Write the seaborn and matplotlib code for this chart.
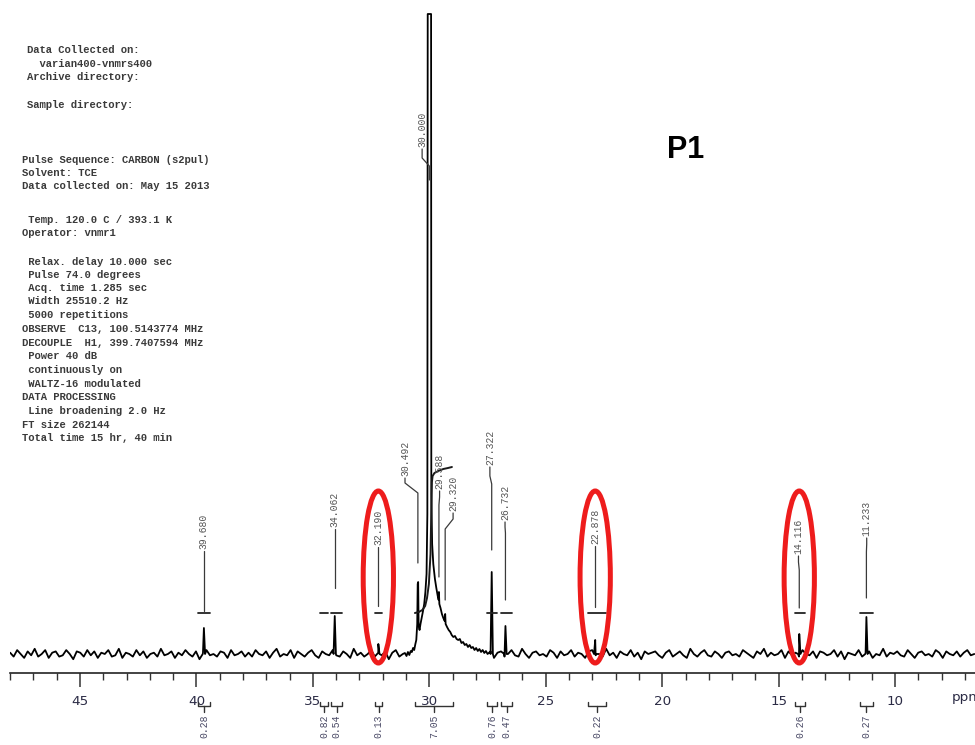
import numpy as np
import matplotlib
matplotlib.use("Agg")
import matplotlib.pyplot as plt
from matplotlib.patches import Ellipse
import seaborn as sns

# ---------------- spectrum data ----------------
# isolated sharp resonances: shift (ppm) and height (a.u.)
peak_ppm = [39.680, 34.062, 32.190, 27.322, 26.732, 22.878, 14.116, 11.233]
peak_height = [26, 38, 10, 82, 28, 14, 20, 37]

# main methylene envelope, traced point by point (ppm, a.u.); top is clipped by the plotter
cluster_ppm = [31.05, 30.98, 30.92, 30.86, 30.80, 30.75, 30.70, 30.65, 30.60, 30.56,
               30.52, 30.50, 30.48, 30.46, 30.42, 30.38, 30.33, 30.28, 30.22, 30.17,
               30.12, 30.085, 30.07, 29.925, 29.915, 29.88, 29.83, 29.76, 29.70, 29.64,
               29.60, 29.588, 29.57, 29.52, 29.46, 29.40, 29.34, 29.32, 29.30, 29.24,
               29.17, 29.10, 29.04, 28.97, 28.90, 28.83, 28.76, 28.69, 28.62, 28.55,
               28.48, 28.41, 28.34, 28.27, 28.20, 28.13, 28.06, 27.99, 27.92, 27.85,
               27.78, 27.71, 27.64, 27.57, 27.50]
cluster_int = [1, -2, 2, -1, 3, 2, 6, 4, 10, 14,
               30, 70, 72, 28, 24, 30, 36, 42, 50, 62,
               80, 140, 640, 640, 160, 110, 90, 75, 66, 58,
               54, 62, 50, 46, 40, 36, 33, 40, 30, 27,
               24, 22, 19, 17, 18, 15, 14, 15, 11, 12,
               9, 10, 7, 9, 6, 7, 4, 6, 3, 5,
               2, 4, 1, 3, 0]

# baseline noise, left (48 ppm) to right (6.6 ppm)
baseline_noise = [
    1, -2, 3, 0, -3, 2, -1, 4, -2, 0, 3, -3, 1, 2, -2, -1, 3, 0, -4, 2, 1, -2, 3,
    -1, 2, -3, 1, 0, 3, -2, -1, 4, -3, 1, 0, -2, 3, -1, 2, -3, 0, 1, -2, 4, -1, 0,
    2, -3, 1, -1, 3, 0, -2, 2, -4, 1, 3, -1, 0, -2, 2, 1, -3, 3, -1, 0, 2, -2, 1,
    -2, 3, 0, -1, 2, -3, 1, 4, -2, 0, -1, 3, -3, 2, 0, -2, 1, 3, -1, -3, 2, 0, -1,
    3, -1, -2, 2, 0, -3, 4, -1, 1, -2, 0, 3, -2, 1, -1, 2, -4, 1, 3, -2, 0, 1, -3,
    0, 2, -1, 3, -2, 1, -3, 0, 2, -1, 4, -2, 0, 1, -3, 2, -1, 3, 0, -2, 1, -1, 2,
    -3, 1, 2, -2, 0, 3, -1, -2, 4, 0, -3, 1, 2, -1, 0, -2, 3, 1, -3, 2, -1, 0, 3,
    -2, 1, 0, -3, 2, 3, -1, 0, -2, 4, -1, 1, -3, 2, 0, -1, 3, -2, 1, -4, 2, 0, 1,
    2, -1, -3, 1, 3, -2, 0, 2, -1, -3, 4, 0, -2, 1, 3, -1, -2, 2, 0, -3, 1, 2, -1,
    0, -2, 3, 1, -1, -3, 2, 0, 4, -2, 1, -1, 0, 3, -3, 2, -1, 1, -2, 3, 0, -1, 2,
    -3, 2, 1, -1, 0, 3, -2, 2, -4, 1, 0, -1, 3, -2, 1, 2, -3, 0, -1, 4, -2, 1, 0,
    2, -1, -2, 3, 0, -3, 1, 2, -1, 0, -2, 3, 1, -3, 2, 0, -1, 2, -2, 1, 3, -1, 0]

# integral trace over the 31-29 ppm envelope
integral_ppm = [30.62, 30.45, 30.30, 30.18, 30.10, 30.02, 29.95, 29.91, 29.89, 29.86,
                29.78, 29.62, 29.40, 29.20, 29.03]
integral_int = [41, 42, 44, 48, 56, 70, 100, 150, 172, 178,
                181, 183, 185, 186, 187]
integral_level = 41

# integral regions (ppm start, ppm end) and their values
region_start = [39.93, 34.70, 34.22, 32.33, 30.62, 27.52, 26.92, 23.19, 14.30, 11.51]
region_end = [39.42, 34.35, 33.75, 32.03, 28.98, 27.10, 26.45, 22.42, 13.87, 10.95]
region_value = ["0.28", "0.82", "0.54", "0.13", "7.05", "0.76", "0.47", "0.22", "0.26", "0.27"]

# peak picking labels
label_text = ["39.680", "34.062", "32.190", "30.492", "30.000", "29.588",
              "29.320", "27.322", "26.732", "22.878", "14.116", "11.233"]
label_peak = [39.680, 34.062, 32.190, 30.492, 30.000, 29.588,
              29.320, 27.322, 26.732, 22.878, 14.116, 11.233]
label_x = [39.680, 34.062, 32.190, 31.045, 30.310, 29.560,
           28.980, 27.400, 26.750, 22.878, 14.150, 11.220]
label_bottom = [105, 127, 109, 178, 507, 165, 143, 189, 134, 110, 100, 118]
label_knee = [97, 119, 101, 171, 496, 157, 135, 178, 127, 102, 92, 110]
label_foot = [89, 111, 93, 161, 488, 149, 125, 170, 121, 94, 84, 102]
label_end = [43, 66, 48, 91, 474, 77, 54, 104, 54, 47, 46, 56]

# resonances circled in red
highlighted = [32.190, 22.878, 14.116]

# axis ticks
major_ticks = [45, 40, 35, 30, 25, 20, 15, 10]
minor_ticks = list(range(48, 6, -1))

header_lines = [
    "Data Collected on:", "  varian400-vnmrs400", "Archive directory:", "Sample directory:",
    "Pulse Sequence: CARBON (s2pul)", "Solvent: TCE", "Data collected on: May 15 2013",
    " Temp. 120.0 C / 393.1 K", "Operator: vnmr1",
    " Relax. delay 10.000 sec", " Pulse 74.0 degrees", " Acq. time 1.285 sec",
    " Width 25510.2 Hz", " 5000 repetitions", "OBSERVE  C13, 100.5143774 MHz",
    "DECOUPLE  H1, 399.7407594 MHz", " Power 40 dB", " continuously on",
    " WALTZ-16 modulated", "DATA PROCESSING", " Line broadening 2.0 Hz",
    "FT size 262144", "Total time 15 hr, 40 min"]
header_x = [27, 27, 27, 27, 22, 22, 22, 22, 22, 22, 22, 22, 22, 22, 22, 22, 22, 22, 22, 22, 22, 22, 22]
header_y = [50, 64, 77, 105, 160, 173, 186, 220, 233, 262, 275, 288, 301, 315, 329, 343,
            356, 370, 384, 397, 411, 425, 438]

# ---------------- assemble the trace ----------------
grid = np.linspace(48.0, 6.6, len(baseline_noise))
noise = np.array(baseline_noise, dtype=float) * 1.3
keep = (grid > 31.1) | (grid < 27.45)
xs = list(grid[keep])
ys = list(noise[keep])
for p, h in zip(peak_ppm, peak_height):
    xs += [p + 0.05, p, p - 0.05]
    ys += [0.0, h, 0.0]
xs += cluster_ppm
ys += cluster_int
order = np.argsort(xs)[::-1]
spec_x = np.array(xs)[order]
spec_y = np.array(ys)[order]

# ---------------- figure ----------------
sns.set_theme(style="white")
plt.rcParams["font.family"] = ["DejaVu Sans"]

W, H = 975, 745
fig = plt.figure(figsize=(W / 100, H / 100), dpi=100)
fig.patch.set_facecolor("white")
ax = fig.add_axes([10 / W, (H - 673) / H, 965 / W, 673 / H])
ax.set_facecolor("white")

ppm_left, ppm_right = 48.006, 6.57
ax.set_xlim(ppm_left, ppm_right)
ax.set_ylim(-19, 654)

sns.lineplot(x=spec_x, y=spec_y, sort=False, estimator=None, ax=ax,
             color="black", linewidth=1.3)

# integral trace and flat integral levels
sns.lineplot(x=integral_ppm, y=integral_int, sort=False, estimator=None, ax=ax,
             color="#1a1a1a", linewidth=1.4)
for s, e in zip(region_start, region_end):
    if s - e < 1.0:
        ax.plot([s, e], [integral_level, integral_level], color="#222222", lw=1.3)

# peak labels with leader lines
mono = "Liberation Mono"
for t, xp, xl, yb, yk, yf, ye in zip(label_text, label_peak, label_x, label_bottom,
                                      label_knee, label_foot, label_end):
    ax.text(xl, yb, t, rotation=90, ha="center", va="bottom", fontsize=7,
            family=mono, color="#555555")
    ax.plot([xl, xl, xp, xp], [yb - 2, yk, yf, ye], color="#3a3a3a", lw=0.9)

# red highlight ellipses
for p in highlighted:
    ax.add_patch(Ellipse((p, 77), 1.3, 172, fill=False, ec="#ee1c1c", lw=3.6,
                         clip_on=False, zorder=5))

# ruler axis
for side in ("top", "left", "right"):
    ax.spines[side].set_visible(False)
ax.spines["bottom"].set_color("#222222")
ax.spines["bottom"].set_linewidth(1.2)
ax.set_yticks([])
ax.set_xticks(major_ticks)
ax.set_xticks(minor_ticks, minor=True)
ax.set_xticklabels([str(v) for v in major_ticks])
ax.tick_params(axis="x", which="major", direction="out", length=10, width=1.1,
               color="#333333", labelsize=9.7, labelcolor="#2b2b45", pad=6,
               bottom=True)
ax.tick_params(axis="x", which="minor", direction="out", length=5, width=1.0,
               color="#333333", bottom=True)
ax.text(7.55, -44, "ppm", ha="left", va="center", fontsize=9.7, color="#2b2b45",
        clip_on=False)

# integral brackets and values under the ruler
for s, e, v in zip(region_start, region_end, region_value):
    c = (s + e) / 2
    ax.plot([s, s, e, e], [-48, -52, -52, -48], color="#333333", lw=1.0, clip_on=False)
    ax.plot([c, c], [-52, -58], color="#333333", lw=1.0, clip_on=False)
    ax.text(c, -61, v, rotation=90, ha="center", va="top", fontsize=7,
            family=mono, color="#4a4a66", clip_on=False)

# acquisition parameters
for t, x, y in zip(header_lines, header_x, header_y):
    fig.text(x / W, 1 - y / H, t, ha="left", va="center", fontsize=7.6,
             family=mono, weight="bold", color="#3a3a3a")

fig.text(686 / W, 1 - 150 / H, "P1", ha="center", va="center", fontsize=22,
         family="Liberation Sans", weight="bold", color="black")

fig.savefig("out.png", dpi=100, facecolor="white")
